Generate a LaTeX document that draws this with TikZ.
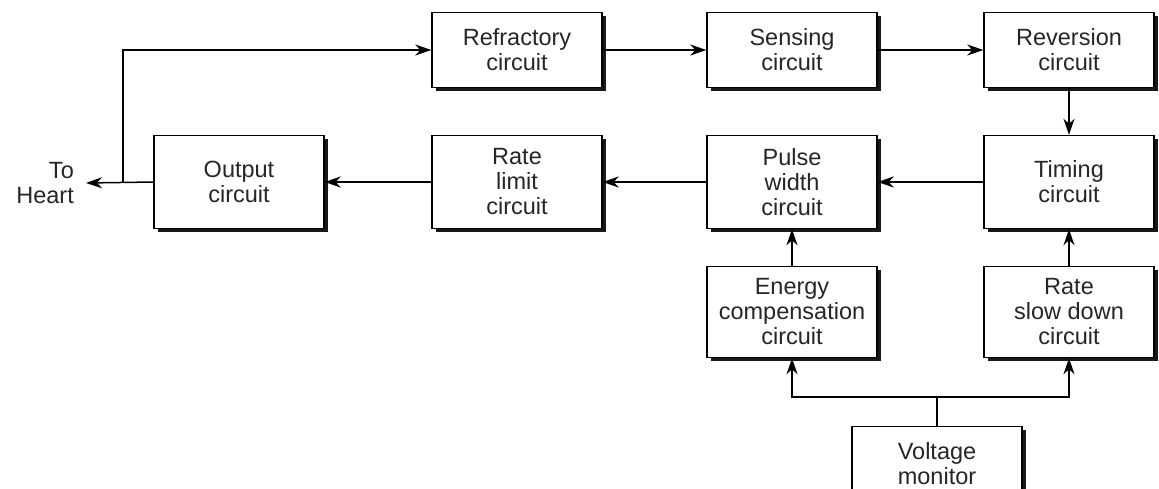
\documentclass[tikz,border=0pt]{standalone}
\usepackage{fontspec}
\setmainfont{Liberation Sans}
\usepackage{tikz}
\usetikzlibrary{arrows.meta,shadows}

\tikzset{
  block/.style={draw, line width=1.4pt, fill=white, minimum width=170pt,
    align=center, font=\fontsize{23.5}{25}\selectfont, text=black!85,
    drop shadow={shadow xshift=3.5pt, shadow yshift=-3.5pt, opacity=1, fill=black!90}},
  arr/.style={line width=1.5pt, -{Stealth[length=16pt,width=11pt,inset=5pt]}},
  wire/.style={line width=1.5pt}
}

\begin{document}
\begin{tikzpicture}[x=1pt,y=-1pt]
\useasboundingbox (0,0) rectangle (1159,488);
% upper row
\node[block, minimum height=75pt] (refr) at (517,50) {Refractory\\circuit};
\node[block, minimum height=75pt] (sens) at (792,50) {Sensing\\circuit};
\node[block, minimum height=75pt] (rev) at (1069,50) {Reversion\\circuit};
% middle row
\node[block, minimum height=93pt] (outc) at (239,182) {Output\\circuit};
\node[block, minimum height=93pt] (rlim) at (517,182) {Rate\\limit\\circuit};
\node[block, minimum height=93pt] (pulse) at (792,182) {Pulse\\width\\circuit};
\node[block, minimum height=93pt] (timing) at (1069,182) {Timing\\circuit};
% lower row
\node[block, minimum height=91pt] (energy) at (792,312) {Energy\\compensation\\circuit};
\node[block, minimum height=91pt] (slow) at (1069,312) {Rate\\slow down\\circuit};
\node[block, minimum height=75pt] (volt) at (937,464) {Voltage\\monitor};
\node[align=right, anchor=east, inner xsep=12pt, inner ysep=0pt, text=black!85,
  font=\fontsize{23.5}{25}\selectfont] (heart) at (86,183) {To\\Heart};

\draw[arr] (refr.east) -- (sens.west);
\draw[arr] (sens.east) -- (rev.west);
\draw[arr] (rev.south) -- (timing.north);
\draw[arr] (timing.west) -- (pulse.east);
\draw[arr] (pulse.west) -- (rlim.east);
\draw[arr] (rlim.west) -- (outc.east);
\draw[arr] (outc.west) -- (heart.east);
\coordinate (tap) at (123,182);
\draw[arr] (tap) |- (refr.west);
\draw[arr] (energy.north) -- (pulse.south);
\draw[arr] (slow.north) -- (timing.south);
\draw[wire] (volt.north) -- ++(0,-29) coordinate (branch);
\draw[arr] (branch) -| (energy.south);
\draw[arr] (branch) -| (slow.south);
\end{tikzpicture}
\end{document}
